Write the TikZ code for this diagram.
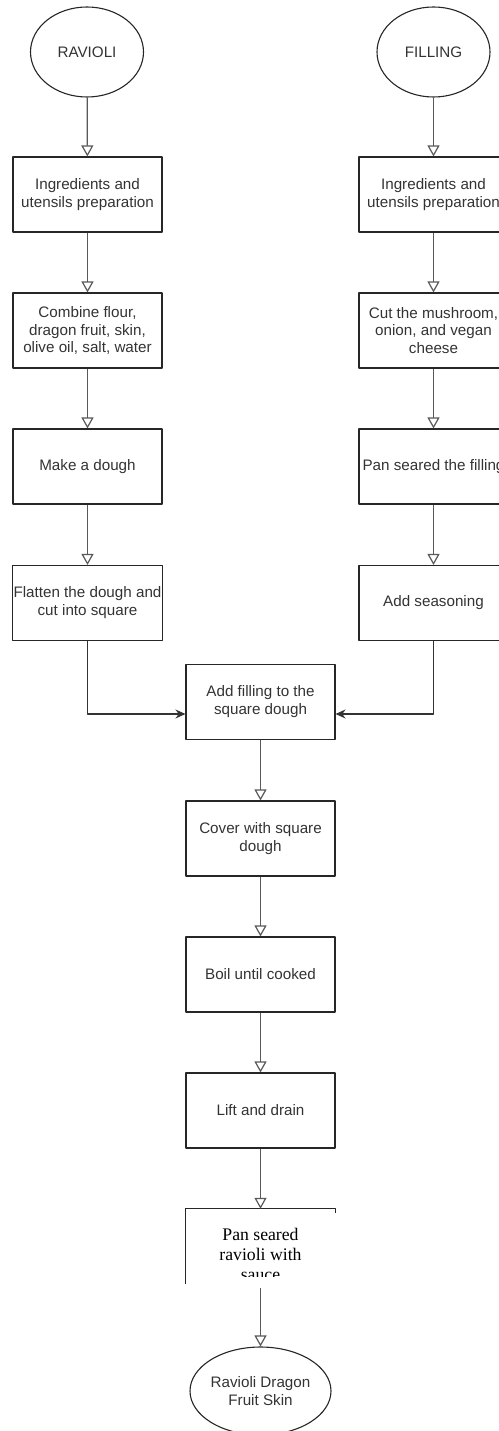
\documentclass[tikz,border=0pt]{standalone}
\usepackage{fontspec}
\setmainfont{Liberation Sans}
\newfontfamily\panfont{Liberation Serif}
\usetikzlibrary{arrows.meta,shapes.geometric}

\begin{document}
\begin{tikzpicture}[x=1pt,y=-1pt,line join=round,font=\fontsize{15.2}{17.9}\selectfont,
 	stepbox/.style={draw=black!85,line width=1.1pt,minimum width=149pt,minimum height=75pt,inner sep=1pt,align=center,text=black!80},
 	endpt/.style={ellipse,draw=black!85,line width=1.1pt,minimum width=113pt,minimum height=90pt,inner sep=0pt,align=center,text=black!80},
 	flow/.style={draw=black!65,line width=1.2pt,-{Triangle[open,length=11pt,width=12pt]}},
 	merge/.style={draw=black!80,line width=1.2pt,-{Stealth[length=10pt,width=9pt]}}]
 			\useasboundingbox (0,0) rectangle (498,1431);
 			\node[endpt] (rav) at (87,52) {RAVIOLI};
 			\node[endpt] (fil) at (433.5,52) {FILLING};
 			\node[stepbox] (r1) at (87.5,194.5) {Ingredients and\\utensils preparation};
 			\node[stepbox] (r2) at (87.5,330.5) {Combine flour,\\dragon fruit, skin,\\olive oil, salt, water};
 			\node[stepbox] (r3) at (87.5,466.5) {Make a dough};
 			\node[stepbox] (r4) at (87.5,603) {Flatten the dough and\\cut into square};
 			\node[stepbox] (f1) at (433.5,194.5) {Ingredients and\\utensils preparation};
 			\node[stepbox] (f2) at (433.5,330.5) {Cut the mushroom,\\onion, and vegan\\cheese};
 			\node[stepbox] (f3) at (433.5,466.5) {Pan seared the filling};
 			\node[stepbox] (f4) at (433.5,603) {Add seasoning};
 			\node[stepbox] (add) at (260.5,702) {Add filling to the\\square dough};
 			\node[stepbox] (cover) at (260.5,838.5) {Cover with square\\dough};
 			\node[stepbox] (boil) at (260.5,974.5) {Boil until cooked};
 			\node[stepbox] (lift) at (260.5,1110.5) {Lift and drain};
 			\node[minimum width=149pt,minimum height=75pt,inner sep=0pt] (pan) at (260.5,1246.5) {};
 			\begin{scope}
 				\clip (186,1205) rectangle (335,1276);
 				\node[align=center,font=\panfont\fontsize{17.7}{20.3}\selectfont] (pantxt) at ([yshift=-8pt]pan.center) {Pan seared\\ravioli with\\sauce};
 			\end{scope}
 			\draw[black!85,line width=1.1pt] (pan.south west) -- (pan.north west) -- (pan.north east) -- ++(0,4);
 			\node[endpt,minimum width=119pt,minimum height=88pt] (dish) at (260.5,1391) {Ravioli Dragon\\Fruit Skin};
 			\draw[flow] (rav) -- (r1);
 			\draw[flow] (r1) -- (r2);
 			\draw[flow] (r2) -- (r3);
 			\draw[flow] (r3) -- (r4);
 			\draw[flow] (fil) -- (f1);
 			\draw[flow] (f1) -- (f2);
 			\draw[flow] (f2) -- (f3);
 			\draw[flow] (f3) -- (f4);
 			\draw[merge] (r4.south) |- ([yshift=-12pt]add.west);
 			\draw[merge] (f4.south) |- ([yshift=-12pt]add.east);
 			\draw[flow] (add) -- (cover);
 			\draw[flow] (cover) -- (boil);
 			\draw[flow] (boil) -- (lift);
 			\draw[flow] (lift) -- (pan.north);
 			\draw[flow,shorten <=4pt] (pan.south) -- (dish);
 		\end{tikzpicture}
\end{document}
